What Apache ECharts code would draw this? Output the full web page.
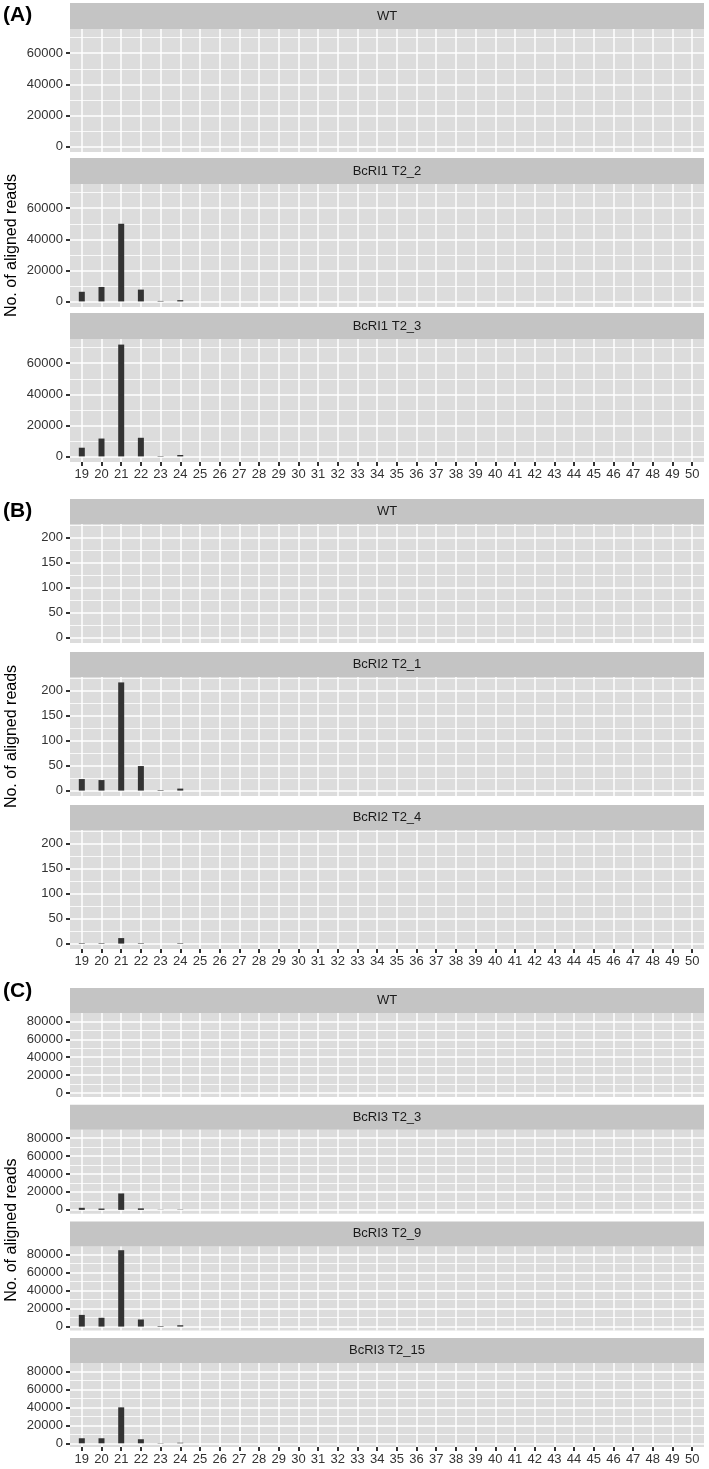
<!DOCTYPE html>
<html>
<head>
<meta charset="utf-8">
<title>Aligned reads by small RNA length</title>
<script src="https://cdn.jsdelivr.net/npm/echarts@6.0.0/dist/echarts.min.js"></script>
<style>
  html, body { margin: 0; padding: 0; background: #fff; }
  #chart { width: 709px; height: 1469px; }
</style>
</head>
<body>
<div id="chart"></div>
<script>
// read length (nt) on the x axis
const lengths = [19, 20, 21, 22, 23, 24, 25, 26, 27, 28, 29, 30, 31, 32, 33, 34,
  35, 36, 37, 38, 39, 40, 41, 42, 43, 44, 45, 46, 47, 48, 49, 50];

// aligned reads for lengths 19..24 (nothing is drawn from 25 on)
const wtA = [0, 0, 0, 0, 0, 0];
const bcri1T2_2 = [6200, 9300, 50000, 7600, 300, 800];
const bcri1T2_3 = [5600, 11500, 72000, 12000, 250, 900];

const wtB = [0, 0, 0, 0, 0, 0];
const bcri2T2_1 = [23, 21, 216, 49, 1, 4];
const bcri2T2_4 = [1, 1, 11, 1, 0, 1];

const wtC = [0, 0, 0, 0, 0, 0];
const bcri3T2_3 = [2300, 1500, 18300, 1700, 200, 300];
const bcri3T2_9 = [13000, 9800, 85000, 7900, 600, 1500];
const bcri3T2_15 = [5600, 5600, 40000, 4500, 300, 600];

// y tick labels and the minor grid in between
const yTicksA = [0, 20000, 40000, 60000];
const yMinorA = [10000, 30000, 50000, 70000];
const yTicksB = [0, 50, 100, 150, 200];
const yMinorB = [25, 75, 125, 175, 225];
const yTicksC = [0, 20000, 40000, 60000, 80000];
const yMinorC = [10000, 30000, 50000, 70000];

const sections = [
  { tag: '(A)', tagY: 15, ticks: yTicksA, minor: yMinorA,
    panels: [['WT', wtA], ['BcRI1 T2_2', bcri1T2_2], ['BcRI1 T2_3', bcri1T2_3]],
    stripTop: 3, stripH: 26, panelH: 123, pitch: 155 },
  { tag: '(B)', tagY: 511, ticks: yTicksB, minor: yMinorB,
    panels: [['WT', wtB], ['BcRI2 T2_1', bcri2T2_1], ['BcRI2 T2_4', bcri2T2_4]],
    stripTop: 499, stripH: 25, panelH: 119, pitch: 153 },
  { tag: '(C)', tagY: 991, ticks: yTicksC, minor: yMinorC,
    panels: [['WT', wtC], ['BcRI3 T2_3', bcri3T2_3], ['BcRI3 T2_9', bcri3T2_9], ['BcRI3 T2_15', bcri3T2_15]],
    stripTop: 988, stripH: 25, panelH: 84, pitch: 116.7 },
];

const LEFT = 70, WIDTH = 634;
const FONT = '"Liberation Sans", Arial, Helvetica, sans-serif';
const INK = '#333333';
const plain = v => String(v);

const grid = [], xAxis = [], yAxis = [], series = [], graphic = [];

sections.forEach(sec => {
  // shared y scale per section, ggplot-style 5% padding
  const top = Math.max(...sec.panels.map(p => Math.max(...p[1])));
  const lo = -0.05 * top, hi = 1.05 * top;
  let firstTop = 0, lastBottom = 0;

  sec.panels.forEach(([label, vals], i) => {
    const k = grid.length;
    const stripY = sec.stripTop + i * sec.pitch;
    const panelTop = stripY + sec.stripH;
    const isLast = i === sec.panels.length - 1;
    if (i === 0) firstTop = panelTop;
    lastBottom = panelTop + sec.panelH;

    grid.push({
      left: LEFT, width: WIDTH, top: panelTop, height: sec.panelH,
      show: true, backgroundColor: '#dcdcdc', borderWidth: 0,
    });

    xAxis.push({
      gridIndex: k, type: 'value', min: 18.4, max: 50.6, position: 'bottom',
      axisLine: { show: false, onZero: false },
      axisTick: { show: isLast, length: 4, customValues: lengths,
        lineStyle: { color: INK, width: 2 } },
      axisLabel: { show: isLast, customValues: lengths, margin: 6, formatter: plain,
        fontSize: 13, color: INK, fontFamily: FONT },
      splitLine: { show: true, lineStyle: { color: '#ffffff', width: 1.5 } },
    });

    yAxis.push({
      gridIndex: k, type: 'value', min: lo, max: hi, position: 'left',
      axisLine: { show: false, onZero: false },
      axisTick: { show: true, length: 4, customValues: sec.ticks,
        lineStyle: { color: INK, width: 2 } },
      axisLabel: { customValues: sec.ticks, margin: 7, fontSize: 13, formatter: plain,
        color: INK, fontFamily: FONT },
      splitLine: { show: true, lineStyle: { color: '#ffffff', width: 1.5 } },
    });
    // minor grid lines only
    yAxis.push({
      gridIndex: k, type: 'value', min: lo, max: hi, position: 'left',
      axisLine: { show: false, onZero: false },
      axisTick: { show: false, customValues: sec.minor },
      axisLabel: { show: false },
      splitLine: { show: true, lineStyle: { color: '#ffffff', width: 0.8 } },
    });

    series.push({
      type: 'bar', xAxisIndex: k, yAxisIndex: 2 * k,
      data: vals.map((v, j) => [lengths[j], v]),
      barWidth: 6, itemStyle: { color: INK }, silent: true,
    });

    graphic.push({
      type: 'rect', silent: true,
      shape: { x: LEFT, y: stripY, width: WIDTH, height: sec.stripH },
      style: { fill: '#c4c4c4' },
    });
    graphic.push({
      type: 'text', silent: true, x: LEFT + WIDTH / 2, y: stripY + sec.stripH / 2,
      style: { text: label, align: 'center', verticalAlign: 'middle',
        fontSize: 13, fontFamily: FONT, fill: '#1a1a1a' },
    });
  });

  graphic.push({
    type: 'text', silent: true, x: 3, y: sec.tagY,
    style: { text: sec.tag, align: 'left', verticalAlign: 'middle',
      fontSize: 21, fontWeight: 'bold', fontFamily: FONT, fill: '#000' },
  });
  graphic.push({
    type: 'text', silent: true, x: 12, y: (firstTop + lastBottom) / 2,
    rotation: Math.PI / 2,
    style: { text: 'No. of aligned reads', align: 'center', verticalAlign: 'middle',
      fontSize: 16, fontFamily: FONT, fill: '#000' },
  });
});

const chart = echarts.init(document.getElementById('chart'), null, { renderer: 'canvas' });
chart.setOption({
  animation: false,
  textStyle: { fontFamily: FONT },
  grid, xAxis, yAxis, series, graphic,
});
window.addEventListener('resize', () => chart.resize());
</script>
</body>
</html>
